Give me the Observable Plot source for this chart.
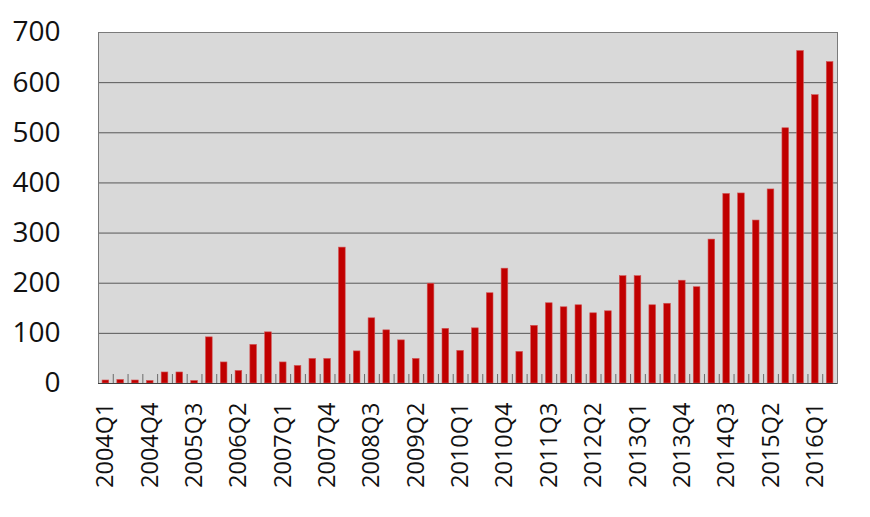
<!DOCTYPE html>
<html>
<head>
<meta charset="utf-8">
<script src="https://cdn.jsdelivr.net/npm/d3@7"></script>
<script src="https://cdn.jsdelivr.net/npm/@observablehq/plot@0.6"></script>
<style>
  html, body { margin: 0; padding: 0; background: #fff; }
  #chart { width: 870px; height: 517px; }
</style>
</head>
<body>
<div id="chart"></div>
<script>
const years = [2004, 2005, 2006, 2007, 2008, 2009, 2010, 2011, 2012, 2013, 2014, 2015, 2016];
const quarters = years.flatMap(y => [1, 2, 3, 4].map(q => `${y}Q${q}`)).slice(0, 50);
const values = [
  6, 7, 6, 5, 22, 22, 5, 92, 42, 25, 77, 102, 42, 35, 49, 49,
  271, 64, 130, 106, 86, 49, 199, 109, 65, 110, 180, 229,
  63, 115, 160, 152, 156, 140, 144, 214, 214, 156, 159, 205,
  192, 287, 378, 379, 325, 387, 509, 663, 575, 641
];
const yTicks = [0, 100, 200, 300, 400, 500, 600, 700];
const xLabels = quarters.filter((d, i) => i % 3 === 0);

const data = quarters.map((q, i) => ({quarter: q, value: values[i]}));

const W = 870, H = 517;
const mL = 98, mR = 33, mT = 32, mB = 134;
const step = (W - mL - mR) / quarters.length;

const chart = Plot.plot({
  width: W,
  height: H,
  marginLeft: mL,
  marginRight: mR,
  marginTop: mT,
  marginBottom: mB,
  style: {fontFamily: "'Open Sans', sans-serif", color: "#111", background: "#fff"},
  x: {type: "band", domain: quarters, paddingInner: 0.55, paddingOuter: 0.275, label: null},
  y: {domain: [0, 700], label: null},
  marks: [
    Plot.frame({fill: "#d9d9d9", stroke: null}),
    Plot.ruleY(yTicks.slice(1), {stroke: "#585858", strokeWidth: 1}),
    Plot.barY(data, {x: "quarter", y: "value", fill: "#c00000", stroke: "#d25454", strokeWidth: 0.6}),
    Plot.ruleX(quarters.slice(1), {x: d => d, y1: 0, y2: 0, insetTop: -9, dx: -step / 2, stroke: "#6a6a6a"}),
    Plot.frame({stroke: "#7a7a7a", strokeWidth: 1}),
    Plot.ruleY([0], {stroke: "#404040", strokeWidth: 1.2}),
    Plot.axisY({ticks: yTicks, tickSize: 0, tickPadding: 38, fontSize: 28, label: null, fill: "#111"}),
    Plot.axisX({ticks: xLabels, tickSize: 0, tickPadding: 19, tickRotate: -90, fontSize: 23.5, label: null, fill: "#111"})
  ]
});
document.getElementById("chart").appendChild(chart);
</script>
</body>
</html>
